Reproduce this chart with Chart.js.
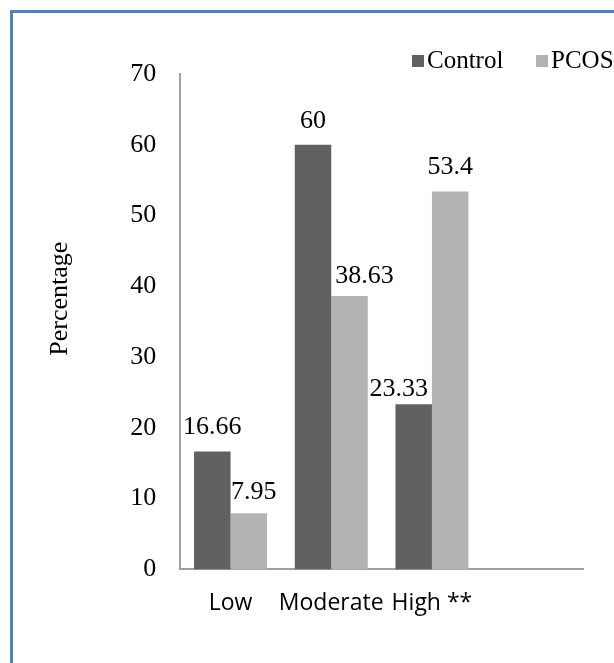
<!DOCTYPE html>
<html>
<head>
<meta charset="utf-8">
<script src="https://cdn.jsdelivr.net/npm/chart.js@4/dist/chart.umd.min.js"></script>
<style>
  html, body { margin: 0; padding: 0; background: #ffffff; overflow: hidden; }
  #frame { position: absolute; left: 10px; top: 10px; width: 700px; height: 700px;
           border-left: 3px solid #4f81bd; border-top: 3px solid #4f81bd; box-sizing: border-box; }
  #wrap { position: absolute; left: 0; top: 0; width: 614px; height: 663px; }
</style>
</head>
<body>
<div id="frame"></div>
<div id="wrap"><canvas id="c" width="614" height="663"></canvas></div>
<script>
const categories = ['Low', 'Moderate', 'High **', ''];
const controlValues = [16.66, 60, 23.33, null];
const pcosValues = [7.95, 38.63, 53.4, null];
const controlLabels = ['16.66', '60', '23.33', ''];
const pcosLabels = ['7.95', '38.63', '53.4', ''];
const yTicks = [0, 10, 20, 30, 40, 50, 60, 70];
const yTitle = 'Percentage';

// label nudges in pixels: [horizontal shift from bar centre, baseline gap above bar top]
const controlLabelShift = [[0, 17], [0, 17], [-15, 8], [0, 0]];
const pcosLabelShift = [[5, 14], [15, 13], [0, 17], [0, 0]];

const serif = '"Liberation Serif", "Times New Roman", serif';
const sans = '"Open Sans", "Liberation Sans", sans-serif';

const labelPlugin = {
  id: 'labels',
  afterDatasetsDraw(chart) {
    const ctx = chart.ctx;
    ctx.save();
    ctx.font = '26px ' + serif;
    ctx.textAlign = 'center';
    ctx.textBaseline = 'alphabetic';
    const sets = [[controlLabels, controlLabelShift], [pcosLabels, pcosLabelShift]];
    sets.forEach((s, di) => {
      const meta = chart.getDatasetMeta(di);
      meta.data.forEach((bar, i) => {
        const txt = s[0][i];
        if (!txt) return;
        ctx.fillStyle = '#000000';
        ctx.fillText(txt, bar.x + s[1][i][0], bar.y - s[1][i][1]);
      });
    });
    // legend
    ctx.font = '25px ' + serif;
    const items = [['Control', '#616161', 412], ['PCOS', '#b3b3b3', 536]];
    ctx.textAlign = 'left';
    items.forEach(it => {
      ctx.fillStyle = it[1];
      ctx.fillRect(it[2], 55, 12, 12);
      ctx.fillStyle = '#000000';
      ctx.fillText(it[0], it[2] + 15, 68);
    });
    // y axis title (space reserved by the scale's own title)
    ctx.font = '26px ' + serif;
    const ys = chart.scales.y;
    ctx.translate(ys.left + 15.6, (chart.chartArea.top + chart.chartArea.bottom) / 2 - 23);
    ctx.rotate(-Math.PI / 2);
    ctx.textAlign = 'center';
    ctx.textBaseline = 'middle';
    ctx.fillText(yTitle, 0, 0);
    ctx.restore();
  }
};

new Chart(document.getElementById('c'), {
  type: 'bar',
  data: {
    labels: categories,
    datasets: [
      { label: 'Control', data: controlValues, backgroundColor: '#616161', borderWidth: 0 },
      { label: 'PCOS', data: pcosValues, backgroundColor: '#b3b3b3', borderWidth: 0 }
    ]
  },
  options: {
    responsive: false,
    animation: false,
    devicePixelRatio: 1,
    layout: { padding: { left: 45, right: 31, top: 74, bottom: 26 } },
    plugins: { legend: { display: false }, tooltip: { enabled: false } },
    datasets: { bar: { barPercentage: 1.0, categoryPercentage: 0.725 } },
    scales: {
      x: {
        grid: { display: false, drawTicks: false },
        border: { display: true, color: '#a0a0a0', width: 2 },
        ticks: { color: '#000000', font: { family: sans, size: 23 }, padding: 20, maxRotation: 0, autoSkip: false }
      },
      y: {
        min: 0, max: 70,
        afterBuildTicks(axis) { axis.ticks = yTicks.map(v => ({ value: v })); },
        grid: { display: false, drawTicks: false },
        border: { display: true, color: '#a0a0a0', width: 2 },
        ticks: { color: '#000000', font: { family: serif, size: 26 }, padding: 24 },
        title: { display: true, text: yTitle, color: 'rgba(0,0,0,0)',
                 font: { family: serif, size: 26 }, padding: { top: 0, bottom: 30 } }
      }
    }
  },
  plugins: [labelPlugin]
});
</script>
</body>
</html>
